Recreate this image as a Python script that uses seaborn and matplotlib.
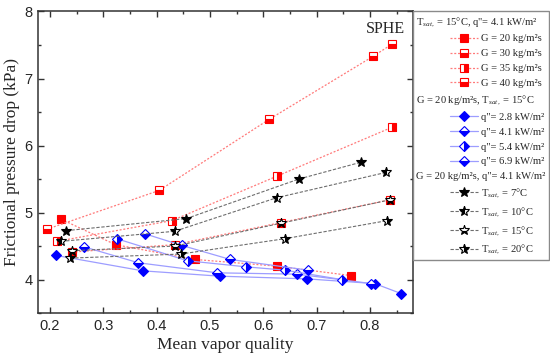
import matplotlib
matplotlib.use("Agg")
import matplotlib.pyplot as plt
import seaborn as sns
from matplotlib.lines import Line2D
from matplotlib.ticker import MultipleLocator
from matplotlib.legend_handler import HandlerLine2D

# ---------------- data ----------------
g20_x = [0.221, 0.323, 0.472, 0.625, 0.764]
g20_y = [4.90, 4.52, 4.30, 4.20, 4.06]
g30_x = [0.241, 0.434, 0.633, 0.838]
g30_y = [4.41, 4.52, 4.85, 5.19]
g35_x = [0.213, 0.429, 0.625, 0.841]
g35_y = [4.57, 4.88, 5.54, 6.27]
g40_x = [0.194, 0.405, 0.611, 0.806, 0.841]
g40_y = [4.75, 5.33, 6.39, 7.33, 7.51]

q28_x = [0.211, 0.374, 0.519, 0.682, 0.809, 0.859]
q28_y = [4.36, 4.13, 4.05, 4.01, 3.94, 3.79]
q41_x = [0.263, 0.366, 0.514, 0.664, 0.803]
q41_y = [4.49, 4.25, 4.10, 4.08, 3.94]
q54_x = [0.325, 0.458, 0.567, 0.641, 0.747]
q54_y = [4.61, 4.28, 4.19, 4.14, 4.00]
q69_x = [0.379, 0.447, 0.538, 0.684]
q69_y = [4.68, 4.51, 4.30, 4.14]

t7_x = [0.231, 0.456, 0.667, 0.783]
t7_y = [4.73, 4.91, 5.50, 5.75]
t10_x = [0.221, 0.434, 0.625, 0.831]
t10_y = [4.57, 4.72, 5.22, 5.60]
t15_x = [0.241, 0.435, 0.633, 0.838]
t15_y = [4.43, 4.50, 4.84, 5.19]
t20_x = [0.238, 0.445, 0.641, 0.833]
t20_y = [4.32, 4.38, 4.61, 4.88]

hdr_g = "T$_{sat,}$ = 15°C, q\"= 4.1 kW/m²"
hdr_q = "G = 20 kg/m²s, T$_{sat,}$ = 15°C"
hdr_t = "G = 20 kg/m²s, q\"= 4.1 kW/m²"
lab_g = ["G = 20 kg/m²s", "G = 30 kg/m²s", "G = 35 kg/m²s", "G = 40 kg/m²s"]
lab_q = ["q\"= 2.8 kW/m²", "q\"= 4.1 kW/m²", "q\"= 5.4 kW/m²", "q\"= 6.9 kW/m²"]
lab_t = ["T$_{sat,}$ = 7°C", "T$_{sat,}$ = 10°C", "T$_{sat,}$ = 15°C", "T$_{sat,}$ = 20°C"]

# ---------------- style ----------------
sns.set_style("ticks")
plt.rcParams["font.family"] = ["Liberation Serif", "DejaVu Serif"]
plt.rcParams["mathtext.fontset"] = "custom"
plt.rcParams["mathtext.rm"] = "Liberation Serif"
plt.rcParams["mathtext.it"] = "Liberation Serif:italic"

fig = plt.figure(figsize=(5.5, 3.59), dpi=100)
ax = fig.add_axes([0.069, 0.128, 0.681, 0.840])

RED = "#ff0000"
RED_LINE = "#ff7a7a"
BLUE = "#0000ff"
BLUE_LINE = "#9d9dff"
STAR = "#000000"
STAR_LINE = "#6e6e6e"

def series(x, y, label, marker, ms, mc, fill, lc, ls, lw):
    sns.lineplot(x=x, y=y, ax=ax, sort=False, label=label, color=lc,
                 linestyle=ls, linewidth=lw, marker=marker, markersize=ms,
                 markerfacecolor=mc, markeredgecolor=mc, markeredgewidth=0.8,
                 fillstyle=fill, markerfacecoloralt="white")
    return ax.get_lines()[-1]

red_ls = (0, (1.6, 1.4))
star_ls = (0, (3.0, 1.5))
hg = [
    series(g20_x, g20_y, lab_g[0], "s", 5.4, RED, "full", RED_LINE, red_ls, 0.9),
    series(g30_x, g30_y, lab_g[1], "s", 5.4, RED, "bottom", RED_LINE, red_ls, 0.9),
    series(g35_x, g35_y, lab_g[2], "s", 5.4, RED, "right", RED_LINE, red_ls, 0.9),
    series(g40_x, g40_y, lab_g[3], "s", 5.4, RED, "bottom", RED_LINE, red_ls, 0.9),
]
hq = [
    series(q28_x, q28_y, lab_q[0], "D", 5.2, BLUE, "full", BLUE_LINE, "-", 0.9),
    series(q41_x, q41_y, lab_q[1], "D", 5.2, BLUE, "bottom", BLUE_LINE, "-", 0.9),
    series(q54_x, q54_y, lab_q[2], "D", 5.2, BLUE, "right", BLUE_LINE, "-", 0.9),
    series(q69_x, q69_y, lab_q[3], "D", 5.2, BLUE, "bottom", BLUE_LINE, "-", 0.9),
]
ht = [
    series(t7_x, t7_y, lab_t[0], "*", 7.3, STAR, "full", STAR_LINE, star_ls, 0.8),
    series(t10_x, t10_y, lab_t[1], "*", 7.3, STAR, "left", STAR_LINE, star_ls, 0.8),
    series(t15_x, t15_y, lab_t[2], "*", 7.3, STAR, "bottom", STAR_LINE, star_ls, 0.8),
    series(t20_x, t20_y, lab_t[3], "*", 7.3, STAR, "right", STAR_LINE, star_ls, 0.8),
]

# ---------------- axes ----------------
ax.set_xlim(0.1775, 0.88)
ax.set_ylim(3.5, 8.0)
ax.xaxis.set_major_locator(MultipleLocator(0.1))
ax.xaxis.set_minor_locator(MultipleLocator(0.05))
ax.yaxis.set_major_locator(MultipleLocator(1))
ax.yaxis.set_minor_locator(MultipleLocator(0.5))
ax.xaxis.set_major_formatter(matplotlib.ticker.FuncFormatter(lambda v, p: f"{v:.1f}"))
ax.yaxis.set_major_formatter(matplotlib.ticker.FuncFormatter(lambda v, p: f"{v:.0f}"))
ax.tick_params(which="both", direction="in", top=True, right=True, color="#333333", width=1.0)
ax.tick_params(which="major", length=4.0, labelsize=10.5, pad=4)
ax.tick_params(which="minor", length=2.2)
for t in ax.get_xticklabels() + ax.get_yticklabels():
    t.set_fontfamily("Liberation Sans")
for s in ax.spines.values():
    s.set_color("#333333")
    s.set_linewidth(1.1)

ax.set_xlabel("Mean vapor quality", fontsize=12.5, labelpad=3)
ax.set_ylabel("Frictional pressure drop (kPa)", fontsize=12.5, labelpad=3)
ax.text(0.979, 0.942, "SPHE", transform=ax.transAxes, ha="right", va="center", fontsize=11.5)

# ---------------- legend ----------------
dummy = lambda: Line2D([], [], linestyle="none")
handles = [dummy()] + hg + [dummy()] + hq + [dummy()] + ht
labels = [hdr_g] + lab_g + [hdr_q] + lab_q + [hdr_t] + lab_t
leg = ax.legend(handles, labels, loc="upper left", bbox_to_anchor=(1.0, 1.0),
                borderaxespad=0.0, fontsize=7.6, frameon=True, fancybox=False,
                edgecolor="#8a8a8a", framealpha=1.0, handlelength=5.9,
                handletextpad=0.2, labelspacing=0.52, borderpad=0.35,
                handler_map={Line2D: HandlerLine2D(xpad=3.2, numpoints=1)})
leg.get_frame().set_linewidth(1.0)
hdrs = {hdr_g, hdr_q, hdr_t}
for col in leg._legend_handle_box.get_children():
    for item in col.get_children():
        ch = item.get_children()
        if len(ch) == 2 and ch[1].get_text() in hdrs:
            item._children = [ch[1]]

fig.savefig("out.png", dpi=100)
